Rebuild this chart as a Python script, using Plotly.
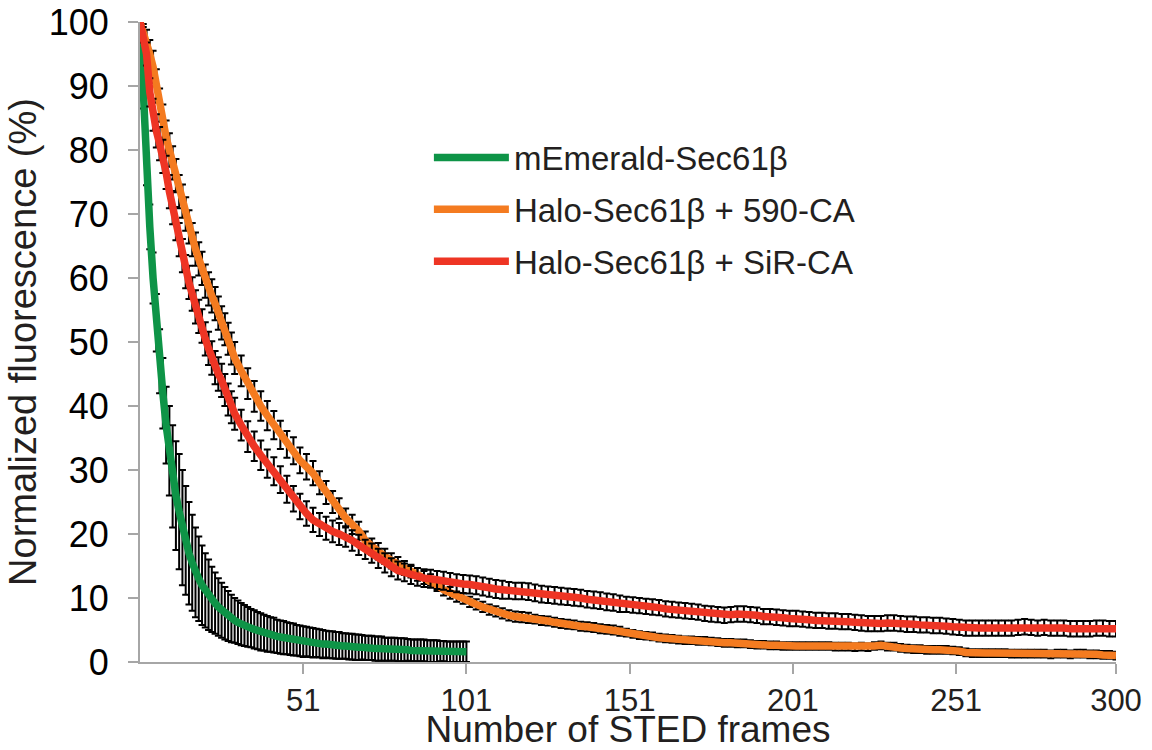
import plotly.graph_objects as go

# ---------------- data ----------------
frames_green = list(range(1, 102))
green_vals = [100, 88, 77, 68, 60, 53, 47, 42, 37, 33,
              29, 26, 23.5, 21, 19, 17, 15.5, 14, 13, 12,
              11.2, 10.5, 9.8, 9.2, 8.6, 8.1, 7.6, 7.2, 6.8, 6.5,
              6.2, 5.9, 5.7, 5.5, 5.3, 5.1, 4.9, 4.7, 4.6, 4.4,
              4.3, 4.2, 4.0, 3.9, 3.8, 3.7, 3.6, 3.5, 3.4, 3.3,
              3.2, 3.2, 3.1, 3.0, 3.0, 2.9, 2.8, 2.8, 2.7, 2.7,
              2.6, 2.6, 2.5, 2.5, 2.4, 2.4, 2.3, 2.3, 2.3, 2.2,
              2.2, 2.2, 2.1, 2.1, 2.1, 2.0, 2.0, 2.0, 2.0, 1.9,
              1.9, 1.9, 1.9, 1.8, 1.8, 1.8, 1.8, 1.8, 1.7, 1.7,
              1.7, 1.7, 1.7, 1.7, 1.6, 1.6, 1.6, 1.6, 1.6, 1.6, 1.6]
green_err = [0, 1.5, 2.5, 3.5, 4, 4.5, 5, 5.5, 6, 7,
             8, 8.5, 9, 9, 8.5, 8, 7.5, 7, 6.6, 6.2,
             5.8, 5.5, 5.1, 4.8, 4.5, 4.3, 4.1, 3.9, 3.7, 3.5,
             3.4, 3.3, 3.2, 3.1, 3.0, 3.0, 2.9, 2.9, 2.8, 2.8,
             2.7, 2.7, 2.6, 2.6, 2.6, 2.5, 2.5, 2.5, 2.4, 2.4,
             2.4, 2.3, 2.3, 2.3, 2.2, 2.2, 2.2, 2.1, 2.1, 2.1,
             2.1, 2.1, 2.0, 2.0, 2.0, 2.0, 2.0, 2.0, 1.9, 1.9,
             1.9, 1.9, 1.9, 1.9, 1.9, 1.8, 1.8, 1.8, 1.8, 1.8,
             1.8, 1.8, 1.7, 1.7, 1.7, 1.7, 1.7, 1.7, 1.7, 1.7,
             1.7, 1.7, 1.6, 1.6, 1.6, 1.6, 1.6, 1.6, 1.6, 1.6, 1.6]

frames_halo = list(range(1, 31)) + list(range(32, 301, 2))

orange_vals = [100, 98.5, 97, 95, 93, 90, 87, 84.5, 82, 80,
               78, 76, 73.5, 72, 70, 68, 66, 64.5, 63, 61.5,
               59.5, 58.3, 57.2, 56, 54.5, 53, 52, 50.5, 49, 47.5,
               # 32..100 step 2
               45.5, 43.5, 41.5, 40, 38.5, 37, 35.5, 34, 33, 31.5,
               30.5, 29.5, 28, 26.5, 25, 24, 22.5, 21.5, 20.5, 19,
               18, 17.3, 16.5, 15.8, 15.3, 14.7, 14.2, 13.7, 13.2, 12.8,
               12, 11.3, 10.8, 10.2, 9.9,
               # 102..300 step 2
               9.4, 9.0, 8.6, 8.2, 7.9, 7.6, 7.3, 7.1, 7.0, 6.9,
               6.7, 6.5, 6.4, 6.2, 6.0, 5.9, 5.8, 5.6, 5.5, 5.4,
               5.2, 5.1, 5.0, 4.8, 4.6, 4.4, 4.2, 4.1, 4.0, 3.8,
               3.7, 3.6, 3.5, 3.4, 3.4, 3.3, 3.3, 3.2, 3.1, 3.0,
               3.0, 2.9, 2.9, 2.8, 2.7, 2.7, 2.6, 2.6, 2.5, 2.5,
               2.5, 2.5, 2.5, 2.5, 2.5, 2.5, 2.4, 2.4, 2.4, 2.3,
               2.4, 2.3, 2.5, 2.6, 2.4, 2.4, 2.2, 2.1, 2.0, 2.0,
               1.9, 1.9, 1.9, 1.9, 1.8, 1.7, 1.5, 1.4, 1.4, 1.4,
               1.4, 1.4, 1.4, 1.3, 1.3, 1.3, 1.3, 1.3, 1.3, 1.2,
               1.3, 1.3, 1.2, 1.3, 1.3, 1.2, 1.2, 1.1, 1.1, 1.0]
orange_err = [0, 1.2, 1.8, 2.2, 2.5, 2.6, 2.6, 2.6, 2.6, 2.6,
              2.6, 2.6, 2.6, 2.6, 2.6, 2.6, 2.6, 2.6, 2.6, 2.6,
              2.6, 2.6, 2.6, 2.6, 2.6, 2.6, 2.5, 2.5, 2.5, 2.5,
              2.4, 2.4, 2.4, 2.3, 2.3, 2.2, 2.2, 2.1, 2.1, 2.0,
              2.0, 1.9, 1.8, 1.8, 1.7, 1.6, 1.5, 1.5, 1.4, 1.4,
              1.3, 1.3, 1.2, 1.2, 1.1, 1.1, 1.0, 1.0, 1.0, 0.9,
              0.9, 0.9, 0.9, 0.8, 0.8,
              0.8, 0.8, 0.8, 0.8, 0.8, 0.8, 0.8, 0.8, 0.8, 0.8,
              0.7, 0.7, 0.7, 0.7, 0.7, 0.7, 0.7, 0.7, 0.7, 0.7,
              0.7, 0.7, 0.7, 0.7, 0.6, 0.6, 0.6, 0.6, 0.6, 0.6,
              0.6, 0.6, 0.6, 0.6, 0.6, 0.6, 0.6, 0.6, 0.6, 0.6,
              0.6, 0.6, 0.6, 0.6, 0.6, 0.6, 0.6, 0.6, 0.6, 0.6,
              0.6, 0.6, 0.6, 0.6, 0.6, 0.6, 0.6, 0.6, 0.6, 0.6,
              0.6, 0.6, 0.6, 0.6, 0.6, 0.6, 0.6, 0.6, 0.6, 0.6,
              0.6, 0.6, 0.6, 0.6, 0.6, 0.6, 0.6, 0.6, 0.6, 0.6,
              0.6, 0.6, 0.6, 0.6, 0.6, 0.6, 0.6, 0.6, 0.6, 0.6,
              0.6, 0.6, 0.6, 0.6, 0.6, 0.6, 0.6, 0.6, 0.6, 0.6]

red_vals = [100, 98, 95, 89, 85.5, 83, 81, 79, 76.5, 73.5,
            71, 68.5, 66, 63.5, 61, 59.3, 57.5, 55.5, 54, 52.5,
            50.5, 49, 47.5, 46, 45, 44, 42.5, 41, 39.8, 38.8,
            # 32..100 step 2
            37, 35.2, 33.7, 32.3, 31, 29.8, 28.5, 27, 25.5, 24.3,
            23.2, 22.2, 21.5, 20.9, 20.4, 20, 19.6, 19, 18.3, 17.6,
            17, 16.2, 15.5, 14.8, 14.3, 14, 13.6, 13.3, 13.1, 13,
            12.8, 12.7, 12.5, 12.3, 12.2,
            # 102..300 step 2
            12.1, 12.0, 11.8, 11.6, 11.4, 11.3, 11.2, 11.1, 11.1, 11.0,
            10.8, 10.6, 10.5, 10.4, 10.3, 10.2, 10.1, 10.0, 9.8, 9.7,
            9.6, 9.4, 9.3, 9.1, 9.0, 8.9, 8.8, 8.7, 8.6, 8.5,
            8.3, 8.2, 8.1, 8.0, 7.9, 7.8, 7.6, 7.5, 7.4, 7.3,
            7.4, 7.5, 7.5, 7.4, 7.3, 7.1, 7.1, 7.0, 6.9, 6.8,
            6.8, 6.7, 6.6, 6.5, 6.5, 6.4, 6.4, 6.3, 6.3, 6.2,
            6.1, 6.0, 6.0, 6.0, 6.1, 6.1, 6.0, 5.9, 5.9, 5.8,
            5.8, 5.7, 5.7, 5.6, 5.5, 5.4, 5.3, 5.3, 5.3, 5.3,
            5.3, 5.3, 5.3, 5.3, 5.4, 5.5, 5.4, 5.3, 5.4, 5.3,
            5.3, 5.3, 5.2, 5.2, 5.2, 5.2, 5.3, 5.3, 5.2, 5.2]
red_err = [0, 1.2, 1.8, 2.2, 2.5, 2.6, 2.6, 2.6, 2.6, 2.6,
           2.6, 2.6, 2.6, 2.6, 2.6, 2.6, 2.6, 2.6, 2.6, 2.6,
           2.6, 2.6, 2.6, 2.6, 2.6, 2.6, 2.5, 2.5, 2.5, 2.5,
           2.4, 2.4, 2.3, 2.3, 2.2, 2.2, 2.1, 2.1, 2.0, 2.0,
           1.9, 1.9, 1.8, 1.8, 1.7, 1.7, 1.6, 1.6, 1.6, 1.5,
           1.5, 1.5, 1.5, 1.4, 1.4, 1.4, 1.4, 1.4, 1.4, 1.4,
           1.4, 1.4, 1.4, 1.4, 1.4,
           1.4, 1.4, 1.4, 1.4, 1.4, 1.4, 1.3, 1.3, 1.3, 1.3,
           1.3, 1.3, 1.3, 1.3, 1.3, 1.3, 1.3, 1.3, 1.3, 1.3,
           1.3, 1.3, 1.3, 1.3, 1.2, 1.2, 1.2, 1.2, 1.2, 1.2,
           1.2, 1.2, 1.2, 1.2, 1.2, 1.2, 1.2, 1.2, 1.2, 1.2,
           1.2, 1.2, 1.2, 1.2, 1.2, 1.2, 1.2, 1.2, 1.2, 1.2,
           1.2, 1.2, 1.2, 1.2, 1.2, 1.2, 1.2, 1.2, 1.2, 1.2,
           1.2, 1.2, 1.2, 1.2, 1.2, 1.2, 1.2, 1.2, 1.2, 1.2,
           1.2, 1.2, 1.2, 1.2, 1.2, 1.2, 1.2, 1.2, 1.2, 1.2,
           1.2, 1.2, 1.2, 1.2, 1.2, 1.2, 1.2, 1.2, 1.2, 1.2,
           1.2, 1.2, 1.2, 1.2, 1.2, 1.2, 1.2, 1.2, 1.2, 1.2]

series_names = ["mEmerald-Sec61\u03b2", "Halo-Sec61\u03b2 + 590-CA", "Halo-Sec61\u03b2 + SiR-CA"]
series_colors = ["#0E9447", "#F47B20", "#EE3524"]

x_tickvals = [51, 101, 151, 201, 251, 300]
y_tickvals = [0, 10, 20, 30, 40, 50, 60, 70, 80, 90, 100]

# ---------------- figure ----------------
AXIS_GRAY = "#A6A6A6"
FONT = "Liberation Sans, Arial, Helvetica, sans-serif"
TXT = "#231F20"

fig = go.Figure()
datasets = [
    (frames_green, green_vals, green_err),
    (frames_halo, orange_vals, orange_err),
    (frames_halo, red_vals, red_err),
]
for i, (xs, ys, es) in enumerate(datasets):
    fig.add_trace(go.Scatter(
        x=xs, y=ys, mode="lines", name=series_names[i],
        legendgroup="g%d" % i,
        line=dict(color=series_colors[i], width=7.5),
        error_y=dict(type="data", array=es, visible=True, color="black",
                     thickness=2, width=3.5),
    ))

fig.update_layout(
    width=1152, height=750,
    margin=dict(l=140, r=36, t=22, b=88),
    paper_bgcolor="white", plot_bgcolor="white",
    showlegend=True,
    legend=dict(x=0.296, y=0.832, xanchor="left", yanchor="top",
                bgcolor="rgba(0,0,0,0)", font=dict(family=FONT, size=33, color=TXT),
                itemwidth=75, tracegroupgap=6, traceorder="grouped"),
    xaxis=dict(range=[1, 300], tickvals=x_tickvals, showgrid=False, zeroline=False,
               automargin=False,
               showline=True, linecolor=AXIS_GRAY, linewidth=2,
               ticks="outside", ticklen=10, tickwidth=2, tickcolor=AXIS_GRAY,
               ticklabelstandoff=0,
               tickfont=dict(family=FONT, size=31, color=TXT),
               title=dict(text="Number of STED frames", standoff=16,
                          font=dict(family=FONT, size=37, color=TXT))),
    xaxis2=dict(range=[1, 300], tickvals=x_tickvals, overlaying="x", matches="x",
                automargin=False,
                showgrid=False, zeroline=False, showline=False, showticklabels=False,
                ticks="inside", ticklen=10, tickwidth=2, tickcolor=AXIS_GRAY),
    yaxis=dict(range=[0, 100], tickvals=y_tickvals, showgrid=False, zeroline=False,
               automargin=False,
               showline=True, linecolor=AXIS_GRAY, linewidth=2,
               ticks="outside", ticklen=10, tickwidth=2, tickcolor=AXIS_GRAY,
               ticklabelstandoff=12,
               tickfont=dict(family=FONT, size=36, color="black"),
               title=dict(text="Normalized fluorescence (%)", standoff=0,
                          font=dict(family=FONT, size=38, color=TXT))),
)

fig.write_html("out.html")
